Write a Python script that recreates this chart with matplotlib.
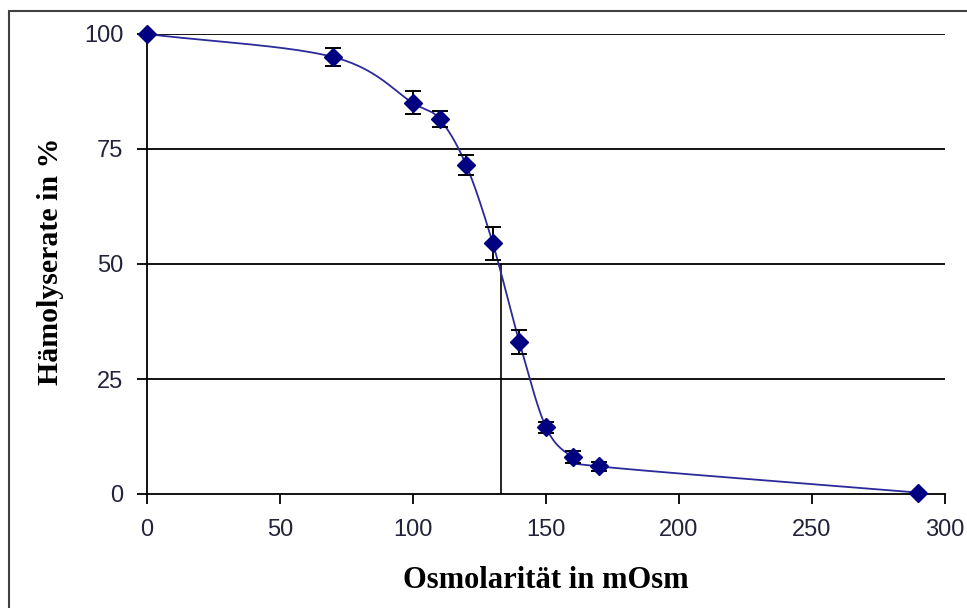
import numpy as np
import matplotlib.pyplot as plt
from matplotlib.patches import Rectangle

# Osmotische Resistenz der Erythrozyten
osmolaritaet = [0, 70, 100, 110, 120, 130, 140, 150, 160, 170, 290]
haemolyse = [100, 95, 85, 81.5, 71.5, 54.5, 33, 14.5, 8, 6, 0.3]
fehler = [0, 2, 2.5, 1.7, 2.2, 3.6, 2.6, 1.2, 1.3, 1.0, 0]
osm_50 = 133  # 50 % Hämolyse
x_ticks = [0, 50, 100, 150, 200, 250, 300]
y_ticks = [0, 25, 50, 75, 100]


def catmull_rom(x, y, n=40):
    # geglättete Linie wie in Excel
    x = np.asarray(x, float)
    y = np.asarray(y, float)
    px = np.concatenate([[2 * x[0] - x[1]], x, [2 * x[-1] - x[-2]]])
    py = np.concatenate([[2 * y[0] - y[1]], y, [2 * y[-1] - y[-2]]])
    xs, ys = [], []
    for i in range(1, len(px) - 2):
        t = np.linspace(0, 1, n)
        for p, out in ((px, xs), (py, ys)):
            p0, p1, p2, p3 = p[i - 1], p[i], p[i + 1], p[i + 2]
            out.extend(0.5 * ((2 * p1) + (-p0 + p2) * t
                              + (2 * p0 - 5 * p1 + 4 * p2 - p3) * t ** 2
                              + (-p0 + 3 * p1 - 3 * p2 + p3) * t ** 3))
    return np.array(xs), np.array(ys)


fig = plt.figure(figsize=(9.67, 6.08), dpi=100)
ax = fig.add_axes([147 / 967, 1 - 494 / 608, (945 - 147) / 967, (494 - 34) / 608])

# Rahmen um das Diagramm
fig.patches.append(Rectangle((9 / 967, -0.1), 1.2, 1.1 - 11 / 608,
                             transform=fig.transFigure, fill=False,
                             edgecolor="#404040", linewidth=1.5))

for y in y_ticks[1:]:
    ax.axhline(y, color="black", linewidth=1.3, zorder=1)

ax.vlines(osm_50, 0, 50, color="black", linewidth=1.2, zorder=1)

xs, ys = catmull_rom(osmolaritaet, haemolyse)
ax.plot(xs, ys, color="#2a2a9a", linewidth=1.3, zorder=2)
ax.errorbar(osmolaritaet, haemolyse, yerr=fehler, fmt="none", ecolor="black",
            elinewidth=1.4, capsize=5.5, capthick=1.4, zorder=3)
ax.plot(osmolaritaet, haemolyse, linestyle="none", marker="D", markersize=9,
        color="#000080", zorder=4, clip_on=False)

ax.set_xlim(0, 300)
ax.set_ylim(0, 100)
ax.set_xticks(x_ticks)
ax.set_yticks(y_ticks)
ax.spines["top"].set_visible(False)
ax.spines["right"].set_visible(False)
ax.spines["left"].set_linewidth(1.3)
ax.spines["bottom"].set_linewidth(1.3)
ax.tick_params(direction="out", length=7, width=1.3,
               labelsize=17, labelcolor="#22223a")
ax.tick_params(axis="x", pad=11)
ax.tick_params(axis="y", pad=10)
for lab in ax.get_xticklabels() + ax.get_yticklabels():
    lab.set_family("Liberation Sans")
ax.patch.set_alpha(0)

# Achsenbeschriftungen
fig.text(546 / 967, 1 - 581 / 608, "Osmolarität in mOsm", family="Liberation Serif",
         fontweight="bold", fontsize=22, ha="center", va="center")
fig.text(51 / 967, 1 - 261 / 608, "Hämolyserate in %", family="Liberation Serif",
         fontweight="bold", fontsize=21.5, ha="center", va="center", rotation=90)

fig.savefig("out.png", dpi=100)
